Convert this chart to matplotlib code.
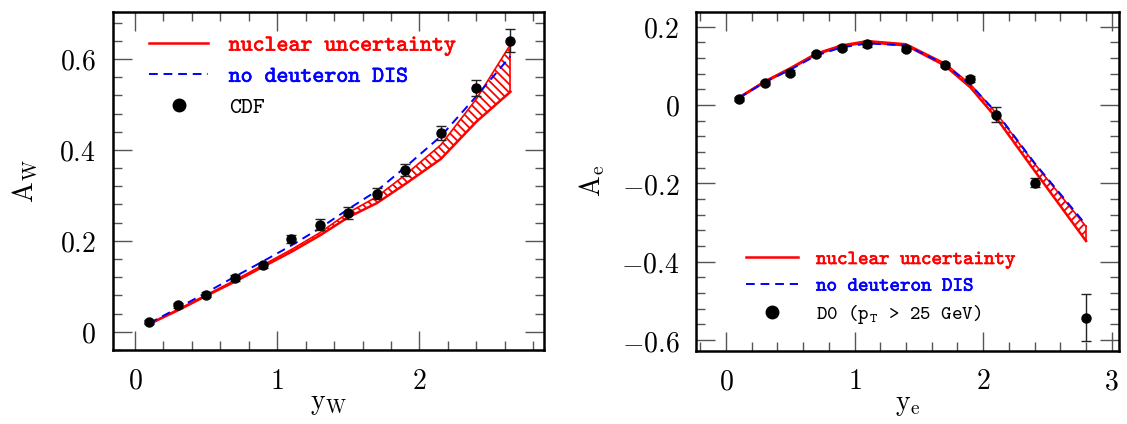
import matplotlib
matplotlib.use("Agg")
import matplotlib.pyplot as plt
import matplotlib.patheffects as pe
from matplotlib.lines import Line2D
from matplotlib.ticker import MultipleLocator, FuncFormatter

plt.rcParams['mathtext.fontset'] = 'cm'
plt.rcParams['hatch.linewidth'] = 1.3

# --- W charge asymmetry (CDF) ---
yw = [0.1, 0.3, 0.5, 0.7, 0.9, 1.1, 1.3, 1.5, 1.7, 1.9, 2.15, 2.4, 2.64]
aw_cdf = [0.021, 0.058, 0.082, 0.118, 0.146, 0.204, 0.235, 0.262, 0.304, 0.356, 0.437, 0.536, 0.640]
aw_err = [0.004, 0.005, 0.005, 0.006, 0.006, 0.009, 0.012, 0.013, 0.013, 0.014, 0.015, 0.017, 0.025]
aw_lo = [0.017, 0.047, 0.079, 0.110, 0.143, 0.176, 0.212, 0.252, 0.283, 0.325, 0.380, 0.462, 0.528]
aw_hi = [0.018, 0.049, 0.081, 0.113, 0.147, 0.181, 0.218, 0.262, 0.297, 0.345, 0.411, 0.512, 0.632]
aw_nod = [0.019, 0.052, 0.086, 0.121, 0.155, 0.190, 0.228, 0.270, 0.310, 0.362, 0.430, 0.518, 0.606]

# --- electron charge asymmetry (D0) ---
ye = [0.1, 0.3, 0.5, 0.7, 0.9, 1.1, 1.4, 1.7, 1.9, 2.1, 2.4, 2.8]
ae_d0 = [0.016, 0.056, 0.082, 0.130, 0.146, 0.155, 0.144, 0.102, 0.066, -0.025, -0.198, -0.543]
ae_err = [0.005, 0.005, 0.006, 0.005, 0.006, 0.007, 0.007, 0.006, 0.008, 0.019, 0.011, 0.060]
ae_hi = [0.020, 0.061, 0.095, 0.132, 0.153, 0.164, 0.156, 0.107, 0.053, -0.020, -0.150, -0.310]
ae_lo = [0.018, 0.058, 0.092, 0.129, 0.150, 0.160, 0.152, 0.101, 0.045, -0.032, -0.168, -0.347]
ae_nod = [0.018, 0.058, 0.090, 0.126, 0.147, 0.157, 0.152, 0.104, 0.052, -0.018, -0.148, -0.306]

RED = '#ff0000'
BLUE = '#0000ff'


def style_axes(ax, xlim, ylim, ymajor, yminor):
    ax.set_xlim(*xlim)
    ax.set_ylim(*ylim)
    ax.xaxis.set_major_locator(MultipleLocator(1))
    ax.xaxis.set_minor_locator(MultipleLocator(0.2))
    ax.yaxis.set_major_locator(MultipleLocator(ymajor))
    ax.yaxis.set_minor_locator(MultipleLocator(yminor))
    fmt = FuncFormatter(lambda v, p: r'$%g$' % round(v, 3))
    ax.xaxis.set_major_formatter(fmt)
    ax.yaxis.set_major_formatter(fmt)
    ax.tick_params(which='both', direction='in', top=True, right=True,
                   color='#555555', width=1.0, labelsize=20, pad=12)
    ax.tick_params(which='major', length=13.5)
    ax.tick_params(which='minor', length=6.8)
    for s in ax.spines.values():
        s.set_linewidth(1.8)


def draw_panel(ax, x, lo, hi, nod, data, err, hatch):
    ax.fill_between(x, lo, hi, facecolor='none', edgecolor=RED, hatch=hatch, linewidth=0)
    ax.plot(x, hi, color=RED, lw=1.2)
    ax.plot(x, lo, color=RED, lw=1.8)
    ax.plot([x[-1], x[-1]], [lo[-1], hi[-1]], color=RED, lw=1.2)
    ax.plot(x, nod, color=BLUE, lw=1.4, dashes=(4.5, 3.0))
    ax.errorbar(x, data, yerr=err, fmt='o', color='black', ms=6.5,
                ecolor='#222222', elinewidth=1.0, capsize=3.5, capthick=1.0)


def add_legend(ax, labels, fontsize, anchor, spacing):
    handles = [Line2D([], [], color=RED, lw=1.8),
               Line2D([], [], color=BLUE, lw=1.4, dashes=(4.5, 3.0)),
               Line2D([], [], ls='none', marker='o', color='black', ms=9)]
    leg = ax.legend(handles, labels, loc='upper left', bbox_to_anchor=anchor,
                    frameon=False, borderpad=0, borderaxespad=0,
                    handlelength=2.6, handletextpad=0.9, labelspacing=spacing,
                    prop={'family': 'cmtt10', 'size': fontsize})
    colors = [RED, BLUE, 'black']
    for t, c in zip(leg.get_texts(), colors):
        t.set_color(c)
        if c != 'black':
            t.set_path_effects([pe.withStroke(linewidth=0.45, foreground=c)])
    return leg


fig = plt.figure(figsize=(11.27, 4.24), dpi=100)

ax1 = fig.add_axes([0.100, 0.1745, 0.383, 0.798])
draw_panel(ax1, yw, aw_lo, aw_hi, aw_nod, aw_cdf, aw_err, '\\\\\\\\')
style_axes(ax1, (-0.157, 2.878), (-0.04, 0.704), 0.2, 0.04)
ax1.set_xlabel(r'$\mathrm{y}_\mathrm{W}$', fontsize=20, labelpad=-4)
ax1.set_ylabel(r'$\mathrm{A}_\mathrm{W}$', fontsize=20, labelpad=14)
add_legend(ax1, ['nuclear uncertainty', 'no deuteron DIS', 'CDF'], 16.4,
           (0.084, 0.932), 0.45)

ax2 = fig.add_axes([0.6176, 0.1729, 0.3757, 0.7995])
draw_panel(ax2, ye, ae_lo, ae_hi, ae_nod, ae_d0, ae_err, '////')
style_axes(ax2, (-0.233, 3.06), (-0.627, 0.238), 0.2, 0.04)
ax2.set_xlabel(r'$\mathrm{y}_\mathrm{e}$', fontsize=20, labelpad=-4)
ax2.set_ylabel(r'$\mathrm{A}_\mathrm{e}$', fontsize=20, labelpad=10)
add_legend(ax2, ['nuclear uncertainty', 'no deuteron DIS',
                 r'D0 (p$_{\mathtt{T}}$ > 25 GeV)'], 14.4, (0.118, 0.297), 0.38)

fig.savefig('out.png', dpi=100)
